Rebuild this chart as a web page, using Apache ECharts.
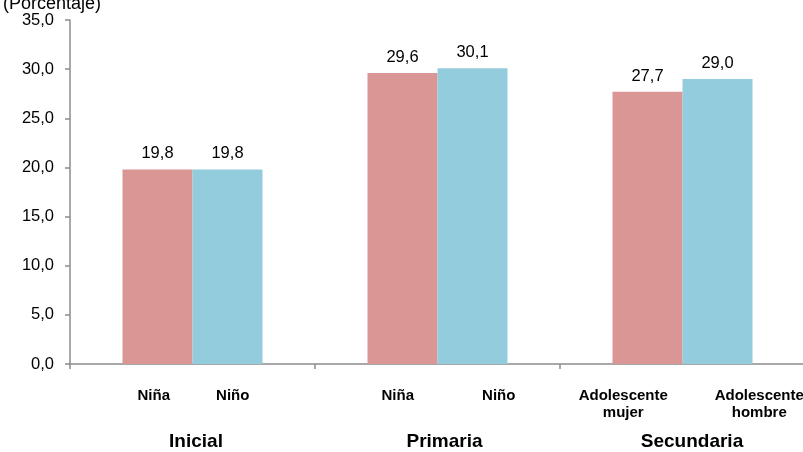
<!DOCTYPE html>
<html><head><meta charset="utf-8">
<script src="https://cdn.jsdelivr.net/npm/echarts@6/dist/echarts.min.js"></script>
<style>html,body{margin:0;padding:0;background:#fff}#c{width:803px;height:452px}</style>
</head><body><div id="c"></div>
<script>
const groups = ['Inicial', 'Primaria', 'Secundaria'];
const subLabels = ['Niña', 'Niño', 'Niña', 'Niño', 'Adolescente\nmujer', 'Adolescente\nhombre'];
const femaleValues = [19.8, 29.6, 27.7];
const maleValues = [19.8, 30.1, 29.0];
const yTicks = [0, 5, 10, 15, 20, 25, 30, 35];

const fmt = v => Number(v).toFixed(1).replace('.', ',');
const FONT = '"Liberation Sans", Arial, sans-serif';
const pad = s => (s >= 0 ? [0, 0, 0, s] : [0, -s, 0, 0]);

const subShift = [45, -42, 43, 0, 4, 31];
const subRich = {};
subShift.forEach((s, i) => {
  subRich['s' + i] = {fontFamily: FONT, fontWeight: 'bold', fontSize: 15, color: '#000', lineHeight: 17, padding: pad(s)};
});
const grpShift = [7, 14, 19];
const grpRich = {};
grpShift.forEach((s, i) => {
  grpRich['g' + i] = {fontFamily: FONT, fontWeight: 'bold', fontSize: 19, color: '#000', padding: pad(s)};
});

const chart = echarts.init(document.getElementById('c'), null, {renderer: 'canvas'});
chart.setOption({
  animation: false,
  title: {
    text: '(Porcentaje)', left: -2, top: -10,
    textStyle: {fontFamily: FONT, fontWeight: 'normal', fontSize: 18, color: '#000'}
  },
  grid: {left: 70, right: -2, top: 20, bottom: 88, containLabel: false, outerBoundsMode: 'none'},
  yAxis: {
    type: 'value', min: yTicks[0], max: yTicks[yTicks.length - 1], interval: 5,
    axisLine: {show: true, lineStyle: {color: '#8c8c8c', width: 1.5}},
    axisTick: {show: true, length: 5, inside: false, lineStyle: {color: '#8c8c8c', width: 1.5}},
    splitLine: {show: false},
    axisLabel: {formatter: fmt, margin: 16, fontFamily: FONT, fontSize: 16.5, color: '#000'}
  },
  xAxis: [{
    type: 'category', data: groups, position: 'bottom',
    axisLine: {show: true, lineStyle: {color: '#8c8c8c', width: 1.5}},
    axisTick: {show: true, length: 5, lineStyle: {color: '#8c8c8c', width: 1.5}},
    axisLabel: {margin: 68, interval: 0,
      formatter: (v, i) => '{g' + i + '|' + v + '}',
      rich: grpRich}
  }, {
    type: 'category', data: subLabels, position: 'bottom', offset: 0,
    axisLine: {show: false}, axisTick: {show: false},
    axisLabel: {
      margin: 23, interval: 0,
      formatter: (v, i) => v.split('\n').map(line => '{s' + i + '|' + line + '}').join('\n'),
      rich: subRich
    }
  }],
  series: [{
    type: 'bar', name: 'Mujer', data: femaleValues, xAxisIndex: 0,
    barWidth: 70, barGap: '0%',
    itemStyle: {color: '#DA9694'},
    label: {show: true, position: 'top', distance: 7, formatter: p => fmt(p.value),
      fontFamily: FONT, fontSize: 16.5, color: '#000'}
  }, {
    type: 'bar', name: 'Hombre', data: maleValues, xAxisIndex: 0,
    barWidth: 70, barGap: '0%',
    itemStyle: {color: '#93CDDD'},
    label: {show: true, position: 'top', distance: 7, formatter: p => fmt(p.value),
      fontFamily: FONT, fontSize: 16.5, color: '#000'}
  }]
});
</script></body></html>
